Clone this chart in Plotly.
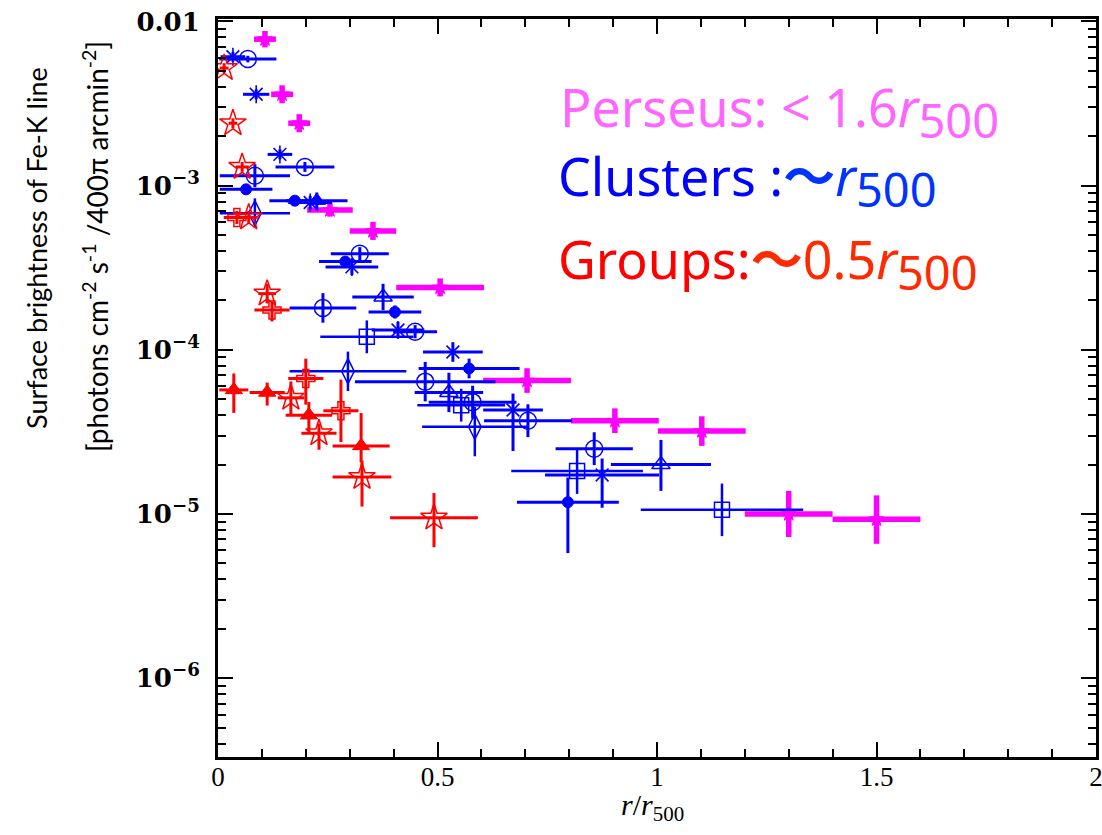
import plotly.graph_objects as go

# ---------------- data ----------------
# Perseus (magenta)
per_x = [0.107, 0.146, 0.185, 0.255, 0.353, 0.506, 0.704, 0.904, 1.102, 1.30, 1.50]
per_y = [7.8e-3, 3.6e-3, 2.4e-3, 7.1e-4, 5.3e-4, 2.4e-4, 6.5e-5, 3.7e-5, 3.2e-5, 1.0e-5, 9.3e-6]
per_xerr = [0.025, 0.025, 0.025, 0.052, 0.053, 0.1, 0.1, 0.1, 0.1, 0.1, 0.1]
per_yup = [0.05, 0.055, 0.055, 0.04, 0.055, 0.055, 0.075, 0.075, 0.09, 0.14, 0.145]
per_ydn = [0.05, 0.055, 0.055, 0.04, 0.055, 0.055, 0.075, 0.075, 0.09, 0.14, 0.15]

# Clusters (blue) - asterisk
cla_x = [0.034, 0.087, 0.141, 0.21, 0.305, 0.41, 0.535, 0.672, 0.875]
cla_y = [6.1e-3, 3.6e-3, 1.55e-3, 7.9e-4, 3.2e-4, 1.32e-4, 9.7e-5, 4.3e-5, 1.73e-5]
cla_xerr = [0.028, 0.03, 0.028, 0.05, 0.06, 0.06, 0.068, 0.068, 0.13]
cla_yup = [0.03, 0.03, 0.03, 0.04, 0.05, 0.05, 0.06, 0.1, 0.1]
cla_ydn = [0.03, 0.03, 0.03, 0.04, 0.05, 0.05, 0.06, 0.25, 0.2]

# Clusters - open circle
clo_x = [0.068, 0.198, 0.084, 0.323, 0.239, 0.449, 0.472, 0.58, 0.706, 0.857]
clo_y = [5.9e-3, 1.3e-3, 1.15e-3, 3.85e-4, 1.8e-4, 1.29e-4, 6.4e-5, 4.8e-5, 3.7e-5, 2.5e-5]
clo_xerr = [0.065, 0.067, 0.08, 0.066, 0.076, 0.05, 0.16, 0.1, 0.1, 0.088]
clo_yup = [0.02, 0.03, 0.07, 0.04, 0.09, 0.04, 0.12, 0.1, 0.1, 0.1]
clo_ydn = [0.02, 0.03, 0.07, 0.04, 0.09, 0.04, 0.12, 0.1, 0.1, 0.1]

# Clusters - filled circle
clf_x = [0.064, 0.175, 0.29, 0.403, 0.572, 0.797]
clf_y = [9.5e-4, 8.1e-4, 3.45e-4, 1.7e-4, 7.7e-5, 1.18e-5]
clf_xerr = [0.06, 0.058, 0.06, 0.06, 0.115, 0.116]
clf_yup = [0.02, 0.02, 0.03, 0.04, 0.06, 0.15]
clf_ydn = [0.02, 0.02, 0.03, 0.04, 0.06, 0.31]

# Clusters - open triangle
clt_x = [0.376, 0.526, 1.009]
clt_y = [2.1e-4, 5.5e-5, 2.0e-5]
clt_xerr = [0.07, 0.078, 0.114]
clt_yup = [0.08, 0.12, 0.15]
clt_ydn = [0.08, 0.12, 0.16]

# Clusters - filled triangle
clft_x = [0.225]
clft_y = [8.1e-4]
clft_xerr = [0.07]
clft_yup = [0.05]
clft_ydn = [0.06]

# Clusters - open diamond
cld_x = [0.084, 0.296, 0.585]
cld_y = [6.8e-4, 7.4e-5, 3.4e-5]
cld_xerr = [0.08, 0.133, 0.12]
cld_yup = [0.09, 0.12, 0.12]
cld_ydn = [0.09, 0.12, 0.18]

# Clusters - open square
cls_x = [0.339, 0.554, 0.818, 1.148]
cls_y = [1.2e-4, 4.6e-5, 1.83e-5, 1.06e-5]
cls_xerr = [0.106, 0.1, 0.15, 0.185]
cls_yup = [0.1, 0.1, 0.14, 0.16]
cls_ydn = [0.1, 0.1, 0.14, 0.16]

# Groups (red) - open star
grs_x = [0.014, 0.034, 0.055, 0.07, 0.112, 0.166, 0.23, 0.328, 0.492]
grs_y = [5.2e-3, 2.4e-3, 1.3e-3, 6.4e-4, 2.2e-4, 5.1e-5, 3.1e-5, 1.68e-5, 9.5e-6]
grs_xerr = [0.01, 0.01, 0.015, 0.02, 0.02, 0.03, 0.04, 0.067, 0.1]
grs_yup = [0.03, 0.03, 0.03, 0.04, 0.06, 0.1, 0.06, 0.1, 0.15]
grs_ydn = [0.03, 0.03, 0.03, 0.04, 0.06, 0.1, 0.1, 0.18, 0.18]

# Groups - open cross
grc_x = [0.043, 0.123, 0.2, 0.28]
grc_y = [6.4e-4, 1.75e-4, 6.7e-5, 4.25e-5]
grc_xerr = [0.03, 0.04, 0.04, 0.04]
grc_yup = [0.04, 0.05, 0.12, 0.19]
grc_ydn = [0.04, 0.07, 0.16, 0.19]

# Groups - filled triangle
grt_x = [0.036, 0.112, 0.207, 0.326]
grt_y = [5.7e-5, 5.5e-5, 4.0e-5, 2.6e-5]
grt_xerr = [0.033, 0.04, 0.053, 0.065]
grt_yup = [0.1, 0.06, 0.08, 0.2]
grt_ydn = [0.14, 0.08, 0.1, 0.1]

ytick_vals = [1e-6, 1e-5, 1e-4, 1e-3, 1e-2]
ytick_text = ["<b>10<sup>−6</sup></b>", "<b>10<sup>−5</sup></b>", "<b>10<sup>−4</sup></b>",
              "<b>10<sup>−3</sup></b>", "<b>0.01</b>"]
xtick_vals = [0, 0.5, 1, 1.5, 2]
xtick_text = ["0", "0.5", "1", "1.5", "2"]

MAGENTA = "#ff00ff"
BLUE = "#0000ff"
RED = "#ff0000"

fig = go.Figure()


def add_series(x, y, xerr, yup, ydn, color, symbol, size, thick, mlw=1.5):
    up = [v * (10 ** d - 1) for v, d in zip(y, yup)]
    dn = [v * (1 - 10 ** (-d)) for v, d in zip(y, ydn)]
    fig.add_trace(go.Scatter(
        x=x, y=y, mode="markers",
        marker=dict(symbol=symbol, size=size, color=color,
                    line=dict(color=color, width=mlw)),
        error_x=dict(type="data", array=xerr, color=color, thickness=thick, width=0),
        error_y=dict(type="data", symmetric=False, array=up, arrayminus=dn,
                     color=color, thickness=thick, width=0),
        showlegend=False, hoverinfo="skip"))


add_series(per_x, per_y, per_xerr, per_yup, per_ydn, MAGENTA, "star", 11, 5.5, 1)
add_series(cla_x, cla_y, cla_xerr, cla_yup, cla_ydn, BLUE, "asterisk-open", 15, 3, 1.6)
add_series(clo_x, clo_y, clo_xerr, clo_yup, clo_ydn, BLUE, "circle-open", 17, 3, 1.5)
add_series(clf_x, clf_y, clf_xerr, clf_yup, clf_ydn, BLUE, "circle", 11, 3, 1)
add_series(clt_x, clt_y, clt_xerr, clt_yup, clt_ydn, BLUE, "triangle-up-open", 16, 3, 1.5)
add_series(clft_x, clft_y, clft_xerr, clft_yup, clft_ydn, BLUE, "triangle-up", 15, 3, 1)
add_series(cld_x, cld_y, cld_xerr, cld_yup, cld_ydn, BLUE, "diamond-tall-open", 18, 2.5, 1.5)
add_series(cls_x, cls_y, cls_xerr, cls_yup, cls_ydn, BLUE, "square-open", 15, 2.5, 1.5)
add_series(grs_x, grs_y, grs_xerr, grs_yup, grs_ydn, RED, "star-open", 20, 3, 1.5)
add_series(grc_x, grc_y, grc_xerr, grc_yup, grc_ydn, RED, "cross-open", 15, 3, 1.5)
add_series(grt_x, grt_y, grt_xerr, grt_yup, grt_ydn, RED, "triangle-up", 15, 3, 1)

W, H = 1102, 835
L, R, T, B = 218, 6, 19, 78
pw = W - L - R
ph = H - T - B


def px2x(px):
    return (px - L) / pw


def px2y(py):
    return 1 - (py - T) / ph


TXT_FONT = "Noto Sans, Noto Sans CJK JP"
SUB500 = "<sub><span style='font-size:47px'>500</span></sub>"

fig.add_annotation(xref="paper", yref="paper", x=px2x(558), y=px2y(111),
                   xanchor="left", yanchor="middle", showarrow=False,
                   text="Perseus: &lt; 1.6<i>r</i>" + SUB500,
                   font=dict(family=TXT_FONT, size=52, color="#ff66ff"))
fig.add_annotation(xref="paper", yref="paper", x=px2x(556), y=px2y(181),
                   xanchor="left", yanchor="middle", showarrow=False,
                   text="Clusters :<span style='color:#0033ff'><b>～</b><i>r</i>" + SUB500 + "</span>",
                   font=dict(family=TXT_FONT, size=52, color="#0000ff"))
fig.add_annotation(xref="paper", yref="paper", x=px2x(556), y=px2y(263),
                   xanchor="left", yanchor="middle", showarrow=False,
                   text="Groups:<span style='color:#ff2a00'><b>～</b>0.5<i>r</i>" + SUB500 + "</span>",
                   font=dict(family=TXT_FONT, size=52, color="#ff0000"))

# y-axis title (two lines)
YT_FONT = "Lato, Noto Sans"
fig.add_annotation(xref="paper", yref="paper", x=px2x(36), y=px2y(248),
                   xanchor="center", yanchor="middle", showarrow=False, textangle=-90,
                   text="Surface brightness of Fe-K line",
                   font=dict(family=YT_FONT, size=27, color="black"))
fig.add_annotation(xref="paper", yref="paper", x=px2x(95), y=px2y(247),
                   xanchor="center", yanchor="middle", showarrow=False, textangle=-90,
                   text="[photons cm<sup>-2</sup> s<sup>-1</sup> /400π arcmin<sup>-2</sup>]",
                   font=dict(family=YT_FONT, size=28, color="black"))

# x-axis title
fig.add_annotation(xref="paper", yref="paper", x=px2x(652), y=px2y(807),
                   xanchor="center", yanchor="middle", showarrow=False,
                   text="<i>r</i>/<i>r</i><sub>500</sub>",
                   font=dict(family="Liberation Serif, DejaVu Serif", size=30, color="black"))

fig.update_layout(
    width=W, height=H,
    margin=dict(l=L, r=R, t=T, b=B, autoexpand=False),
    paper_bgcolor="white", plot_bgcolor="white",
    xaxis=dict(range=[0, 2], showgrid=False, zeroline=False, automargin=False,
               showline=True, linecolor="black", linewidth=3, mirror="allticks",
               ticks="inside", ticklen=15, tickwidth=2, tickcolor="black",
               tickvals=xtick_vals, ticktext=xtick_text, ticklabeloverflow="allow",
               tickfont=dict(family="Liberation Serif, DejaVu Serif", size=27, color="black"),
               minor=dict(ticks="inside", ticklen=8, tickwidth=2, tickcolor="black", dtick=0.1),
               ticklabelstandoff=-6),
    yaxis=dict(type="log", range=[-6.48, -1.985], showgrid=False, zeroline=False, automargin=False,
               showline=True, linecolor="black", linewidth=3, mirror="allticks",
               ticks="inside", ticklen=15, tickwidth=2, tickcolor="black",
               tickvals=ytick_vals, ticktext=ytick_text,
               tickfont=dict(family="DejaVu Serif", size=26, color="black"),
               minor=dict(ticks="inside", ticklen=8, tickwidth=2, tickcolor="black", dtick="D1"),
               ticklabelstandoff=10),
)

fig.write_html("out.html", config={"displayModeBar": False},
               post_script="document.body.style.margin='0';document.body.style.overflow='hidden';")
